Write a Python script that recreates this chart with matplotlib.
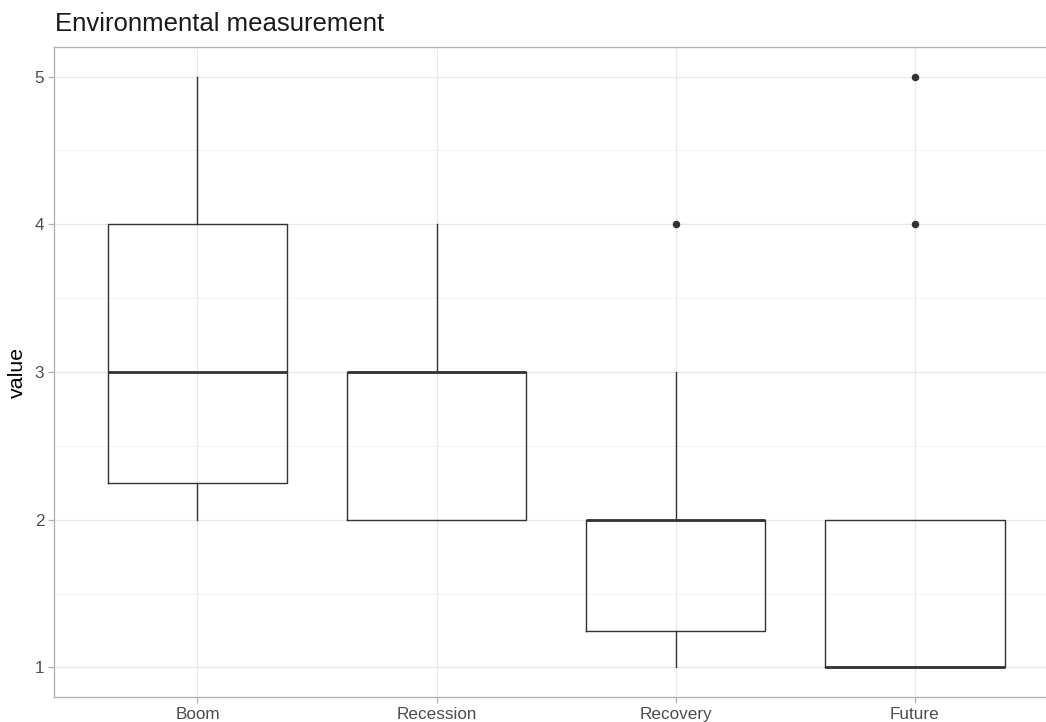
import matplotlib
matplotlib.use("Agg")
from matplotlib import pyplot as plt
from matplotlib.ticker import MultipleLocator

# Box statistics (ggplot-style boxplot)
categories = ["Boom", "Recession", "Recovery", "Future"]
whisker_low = [2, 2, 1, 1]
quart_low = [2.25, 2, 1.25, 1]
medians = [3, 3, 2, 1]
quart_high = [4, 3, 2, 2]
whisker_high = [5, 4, 3, 2]
outliers = [[], [], [4], [4, 5]]

y_ticks = [1, 2, 3, 4, 5]

plt.rcParams['font.family'] = ['Liberation Sans', 'DejaVu Sans']

W, H, dpi = 1046, 722, 100
fig = plt.figure(figsize=(W / dpi, H / dpi), dpi=dpi)

# panel runs a bit past the right edge of the picture, as in the reference
left_px, right_px, top_px, bottom_px = 54, 1058.4, 47, 697
ax = fig.add_axes([left_px / W, 1 - bottom_px / H,
                   (right_px - left_px) / W, (bottom_px - top_px) / H])

stats = []
for i, name in enumerate(categories):
    stats.append(dict(label=name, whislo=whisker_low[i], q1=quart_low[i],
                      med=medians[i], q3=quart_high[i], whishi=whisker_high[i],
                      fliers=outliers[i]))

line_col = "#333333"
positions = list(range(1, len(categories) + 1))
ax.bxp(stats, positions=positions, widths=0.75, showcaps=False, showfliers=True,
       patch_artist=False, manage_ticks=False,
       boxprops=dict(color=line_col, linewidth=1.0),
       whiskerprops=dict(color=line_col, linewidth=1.0),
       medianprops=dict(color=line_col, linewidth=2.0, solid_capstyle='butt'),
       flierprops=dict(marker='o', markersize=4.4, markerfacecolor=line_col,
                       markeredgecolor=line_col, linestyle='none'))

ax.set_xlim(0.4, 4.6)
ax.set_ylim(0.8, 5.2)
ax.set_xticks(positions)
ax.set_xticklabels(categories)
ax.set_yticks(y_ticks)
ax.yaxis.set_minor_locator(MultipleLocator(0.5))

ax.grid(True, which='major', color='#e8e8e8', linewidth=0.9)
ax.grid(True, which='minor', axis='y', color='#f3f3f3', linewidth=0.6)
ax.set_axisbelow(True)

for side in ax.spines.values():
    side.set_color('#b3b3b3')
    side.set_linewidth(1.0)

ax.tick_params(axis='both', which='major', colors='#b3b3b3', length=4, width=0.9,
               labelcolor='#4d4d4d', labelsize=12.3, pad=3)
ax.tick_params(axis='y', which='minor', length=0)

ax.set_ylabel("value", fontsize=15.4, color='black', labelpad=6)
fig.text(55 / W, 1 - 31 / H, "Environmental measurement", fontsize=18.5,
         color='#1a1a1a', ha='left', va='baseline')

fig.savefig("out.png", dpi=dpi)
